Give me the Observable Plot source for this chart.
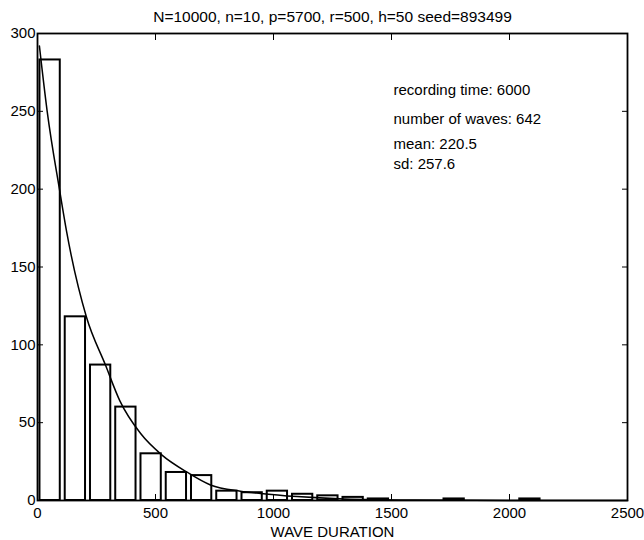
<!DOCTYPE html>
<html>
<head>
<meta charset="utf-8">
<script src="https://cdn.jsdelivr.net/npm/d3@7"></script>
<script src="https://cdn.jsdelivr.net/npm/@observablehq/plot@0.6"></script>
<style>
  html, body { margin: 0; padding: 0; background: #fff; }
  #chart svg { display: block; }
</style>
</head>
<body>
<div id="chart"></div>
<script>
// ---- data ----
const titleText = "N=10000, n=10, p=5700, r=500, h=50 seed=893499";
const xLabel = "WAVE DURATION";
const binCenters = [53.5, 160.5, 267.5, 374.5, 481.5, 588.5, 695.5, 802.5, 909.5, 1016.5,
                    1123.5, 1230.5, 1337.5, 1444.5, 1551.5, 1658.5, 1765.5, 1872.5, 1979.5, 2086.5];
const counts = [283, 118, 87, 60, 30, 18, 16, 6, 5, 6, 4, 3, 2, 1, 0, 0, 1, 0, 0, 1];
const fitX = [8, 41, 94, 123, 207, 288, 349, 437, 525, 636, 733, 860, 945, 1100, 1300, 1600, 2000, 2500];
const fitY = [292, 250, 199, 173, 118, 87, 64, 43, 29.5, 18, 10, 6, 4.5, 2.5, 1, 0.3, 0.05, 0];
const xTicks = [0, 500, 1000, 1500, 2000, 2500];
const yTicks = [0, 50, 100, 150, 200, 250, 300];
const statLines = ["recording time: 6000", "number of waves: 642", "mean: 220.5", "sd: 257.6"];

// ---- tables ----
const barHalf = 43;
const bars = binCenters.map((c, i) => ({x1: c - barHalf, x2: c + barHalf, y: counts[i]})).filter(d => d.y > 0);
const fit = fitX.map((x, i) => ({x, y: fitY[i]}));
const statOffsets = [51, 80, 105, 125];

const font = "'Liberation Sans', Arial, Helvetica, sans-serif";

const chart = Plot.plot({
  width: 644,
  height: 540,
  marginLeft: 37,
  marginRight: 17,
  marginTop: 33,
  marginBottom: 40,
  style: {fontFamily: font, fontSize: "15px", color: "#000", background: "#fff"},
  x: {domain: [0, 2500]},
  y: {domain: [0, 300]},
  marks: [
    Plot.rectY(bars, {x1: "x1", x2: "x2", y1: 0, y2: "y", fill: "white", stroke: "black", strokeWidth: 2}),
    Plot.line(fit, {x: "x", y: "y", curve: "monotone-x", stroke: "black", strokeWidth: 1.5}),
    Plot.frame({stroke: "black", strokeWidth: 1.8}),
    Plot.axisX(xTicks, {anchor: "bottom", tickSize: -6, tickPadding: 13, label: xLabel, labelAnchor: "center", labelArrow: "none", labelOffset: 36, fontSize: 15, tickFormat: d => String(d)}),
    Plot.axisX(xTicks, {anchor: "top", tickSize: -6, text: null, label: null}),
    Plot.axisY(yTicks, {anchor: "left", tickSize: -6, tickPadding: 8, label: null, fontSize: 15, tickFormat: d => String(d)}),
    Plot.axisY(yTicks, {anchor: "right", tickSize: -6, text: null, label: null}),
    Plot.text([titleText], {frameAnchor: "top", dy: -23, fontSize: 15.5, fill: "black"}),
    ...statLines.map((s, i) => Plot.text([s], {frameAnchor: "top-left", dx: 356, dy: statOffsets[i], textAnchor: "start", fontSize: 15, fill: "black"}))
  ]
});
document.getElementById("chart").appendChild(chart);
</script>
</body>
</html>
